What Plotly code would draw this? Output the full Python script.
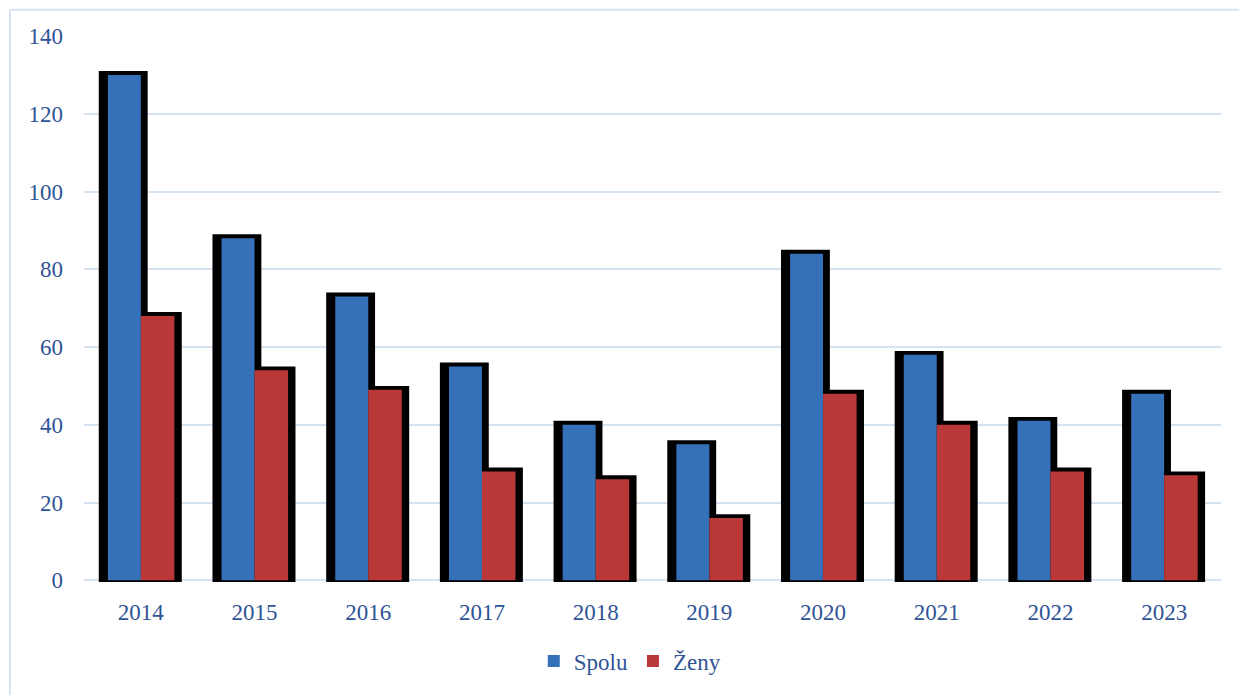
import plotly.graph_objects as go

years = ["2014", "2015", "2016", "2017", "2018", "2019", "2020", "2021", "2022", "2023"]
spolu = [130, 88, 73, 55, 40, 35, 84, 58, 41, 48]
zeny = [68, 54, 49, 28, 26, 16, 48, 40, 28, 27]
y_ticks = [0, 20, 40, 60, 80, 100, 120, 140]

x = list(range(len(years)))
font_family = "Liberation Serif, Times New Roman, serif"
text_color = "#2F5496"
shadow_extra = 1.0
shadow_base = -0.45
frame_color = "#D6E3F3"

fig = go.Figure()
# black shadows/outlines
fig.add_trace(go.Bar(x=x, y=[v + shadow_extra - shadow_base for v in spolu], base=shadow_base,
                     offset=-0.37, width=0.43, marker=dict(color="black", line=dict(width=0)),
                     showlegend=False, hoverinfo="skip"))
fig.add_trace(go.Bar(x=x, y=[v + shadow_extra - shadow_base for v in zeny], base=shadow_base,
                     offset=-0.08, width=0.44, marker=dict(color="black", line=dict(width=0)),
                     showlegend=False, hoverinfo="skip"))
# coloured bars
fig.add_trace(go.Bar(x=x, y=spolu, name="Spolu", offset=-0.29, width=0.29,
                     marker=dict(color="#3571B9", line=dict(width=0))))
fig.add_trace(go.Bar(x=x, y=zeny, name="Ženy", offset=0.0, width=0.295,
                     marker=dict(color="#BA3838", line=dict(width=0))))

fig.update_layout(
    width=1239, height=687,
    barmode="overlay",
    paper_bgcolor="white", plot_bgcolor="white",
    margin=dict(l=76, r=26, t=28, b=111),
    font=dict(family=font_family, size=23, color=text_color),
    showlegend=True,
    legend=dict(orientation="h", x=0.48, xanchor="center", y=-0.145, yanchor="middle",
                font=dict(size=23, color=text_color), traceorder="normal",
                itemwidth=30, tracegroupgap=0),
    xaxis=dict(range=[-0.5, len(years) - 0.5], tickvals=x, ticktext=years,
               showgrid=False, zeroline=False, showline=False, ticks="",
               ticklabelstandoff=14, tickfont=dict(size=23, color=text_color)),
    yaxis=dict(range=[shadow_base, 140], tickvals=y_ticks, showgrid=True,
               gridcolor="#D5E2F2", gridwidth=2, zeroline=False, showline=False,
               ticks="", ticklabelstandoff=20, tickfont=dict(size=23, color=text_color)),
    shapes=[
        dict(type="line", xref="paper", yref="paper", x0=-0.0651, x1=1.1,
             y0=1.048, y1=1.048, line=dict(color=frame_color, width=2), layer="below"),
        dict(type="line", xref="paper", yref="paper", x0=-0.0651, x1=-0.0651,
             y0=-0.4, y1=1.048, line=dict(color=frame_color, width=2), layer="below"),
    ],
)

fig.write_html("out.html")
